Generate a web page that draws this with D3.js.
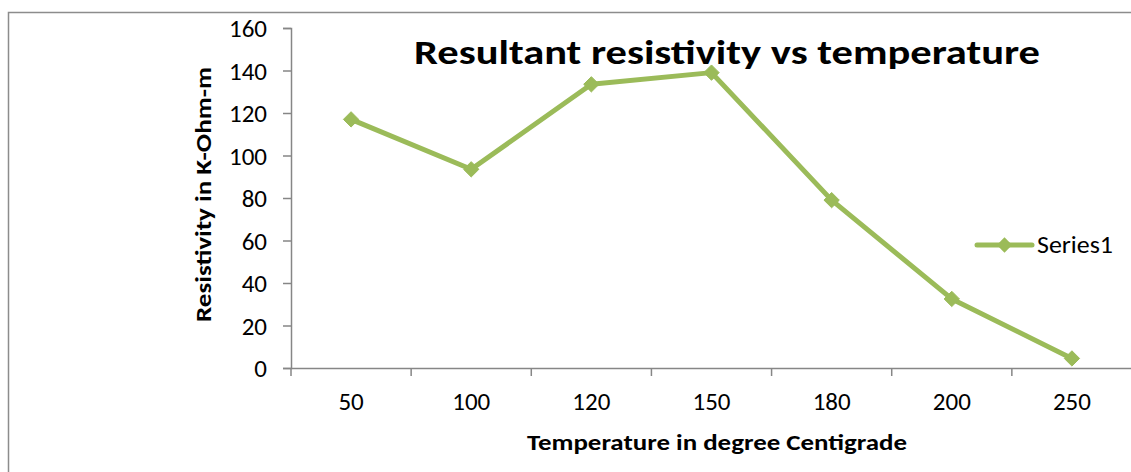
<!DOCTYPE html>
<html>
<head>
<meta charset="utf-8">
<script src="https://cdn.jsdelivr.net/npm/d3@7"></script>
<style>
  body { margin: 0; background: #fff; }
  text { font-family: Calibri, Carlito, Lato, sans-serif; fill: #000; }
</style>
</head>
<body>
<div id="chart"></div>
<script>
// values
const temperatures = ["50", "100", "120", "150", "180", "200", "250"];
const resistivity = [117, 93.5, 133.5, 139, 79, 32.5, 4.5];
const yTicks = [0, 20, 40, 60, 80, 100, 120, 140, 160];
const seriesName = "Series1";

const W = 1131, H = 472;
const margin = {top: 28, left: 291, bottom: 104};
const plotW = 841, plotH = H - margin.top - margin.bottom;
const green = "#9bbb59";
const axisGrey = "#868686";

const svg = d3.select("#chart").append("svg")
  .attr("width", W)
  .attr("height", H);

// outer chart border (cropped on right and bottom)
svg.append("rect")
  .attr("x", 8.5).attr("y", 12.5)
  .attr("width", 1140).attr("height", 500)
  .attr("fill", "none")
  .attr("stroke", "#8c8c8c")
  .attr("stroke-width", 1.5);

const g = svg.append("g")
  .attr("transform", "translate(" + margin.left + "," + margin.top + ")");

const x = d3.scaleBand()
  .domain(temperatures)
  .range([0, plotW]);

const y = d3.scaleLinear()
  .domain([0, 160])
  .range([plotH, 0]);

// y axis
const yAxis = g.append("g")
  .call(d3.axisLeft(y).tickValues(yTicks).tickSize(8).tickPadding(16));
yAxis.select(".domain").attr("stroke", axisGrey).attr("stroke-width", 1.5);
yAxis.selectAll(".tick line").attr("stroke", axisGrey).attr("stroke-width", 1.5);
yAxis.selectAll(".tick text").style("font-size", "25px").attr("fill", "#000").attr("dy", "0.34em");

// x axis, ticks on band boundaries
const xAxis = g.append("g")
  .attr("transform", "translate(0," + plotH + ")")
  .call(d3.axisBottom(x).tickSize(0).tickPadding(24));
xAxis.select(".domain").attr("stroke", axisGrey).attr("stroke-width", 1.5);
xAxis.selectAll(".tick text").style("font-size", "25px").attr("fill", "#000");
xAxis.selectAll(".bound")
  .data(d3.range(temperatures.length + 1))
  .enter().append("line")
  .attr("x1", i => i * x.step())
  .attr("x2", i => i * x.step())
  .attr("y1", 0).attr("y2", 8)
  .attr("stroke", axisGrey)
  .attr("stroke-width", 1.5);

// line series
const pts = temperatures.map((t, i) => [x(t) + x.bandwidth() / 2, y(resistivity[i])]);

g.append("path")
  .datum(pts)
  .attr("d", d3.line())
  .attr("fill", "none")
  .attr("stroke", green)
  .attr("stroke-width", 5)
  .attr("stroke-linejoin", "round")
  .attr("stroke-linecap", "round");

const diamond = d3.symbol().type(d3.symbolDiamond2).size(150);

g.selectAll(".marker")
  .data(pts)
  .enter().append("path")
  .attr("transform", d => "translate(" + d[0] + "," + d[1] + ")")
  .attr("d", diamond)
  .attr("fill", green)
  .attr("stroke", green)
  .attr("stroke-width", 1);

// title
svg.append("text")
  .attr("x", 414).attr("y", 64)
  .attr("textLength", 626)
  .attr("lengthAdjust", "spacingAndGlyphs")
  .style("font-size", "34px")
  .style("font-weight", "bold")
  .text("Resultant resistivity vs temperature");

// axis titles
svg.append("text")
  .attr("transform", "translate(211,322) rotate(-90)")
  .attr("textLength", 255)
  .attr("lengthAdjust", "spacingAndGlyphs")
  .style("font-size", "23px")
  .style("font-weight", "bold")
  .text("Resistivity  in  K-Ohm-m");

svg.append("text")
  .attr("x", 527).attr("y", 450)
  .attr("textLength", 380)
  .attr("lengthAdjust", "spacingAndGlyphs")
  .style("font-size", "23px")
  .style("font-weight", "bold")
  .text("Temperature in degree Centigrade");

// legend
const leg = svg.append("g").attr("transform", "translate(977,245)");
leg.append("line")
  .attr("x1", 0).attr("x2", 55)
  .attr("stroke", green)
  .attr("stroke-width", 5)
  .attr("stroke-linecap", "round");
leg.append("path")
  .attr("transform", "translate(27.5,0)")
  .attr("d", diamond)
  .attr("fill", green);
leg.append("text")
  .attr("x", 60).attr("y", 8)
  .attr("textLength", 76)
  .attr("lengthAdjust", "spacingAndGlyphs")
  .style("font-size", "24px")
  .text(seriesName);
</script>
</body>
</html>
